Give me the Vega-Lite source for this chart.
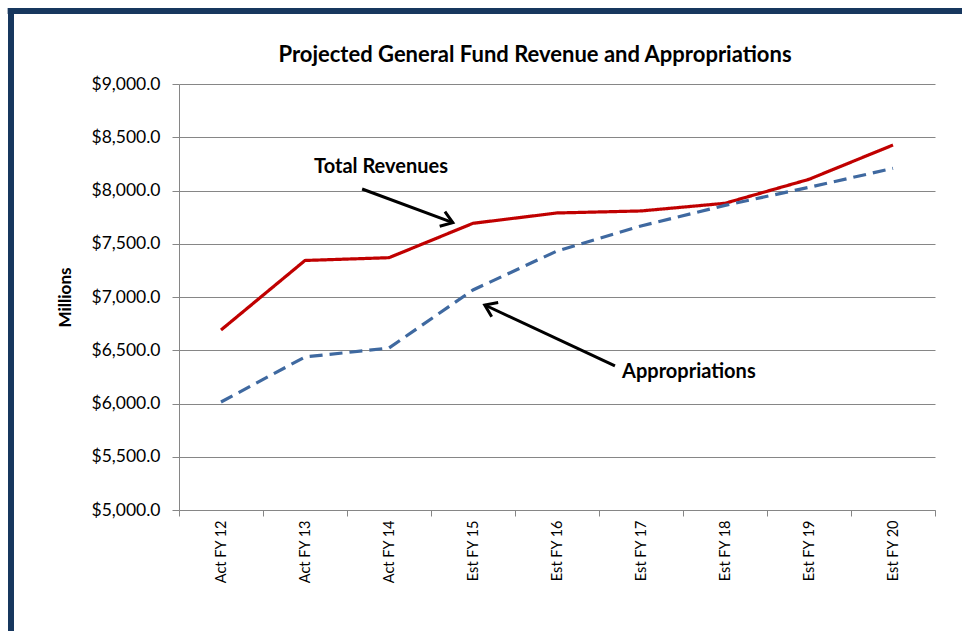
{
  "$schema": "https://vega.github.io/schema/vega-lite/v6.json",
  "width": 756,
  "height": 426,
  "autosize": {"type": "none"},
  "padding": {"left": 179, "top": 84, "right": 27, "bottom": 121},
  "background": "white",
  "config": {"view": {"stroke": null}, "font": "Lato"},
  "title": {
    "text": "Projected General Fund Revenue and Appropriations",
    "fontSize": 22,
    "fontWeight": "bold",
    "font": "Lato",
    "color": "#000000",
    "anchor": "middle",
    "frame": "group",
    "dx": -22,
    "offset": -62
  },
  "datasets": {
    "series": [
      {"year": "Act FY 12", "series": "Total Revenues", "value": 6690},
      {"year": "Act FY 13", "series": "Total Revenues", "value": 7343},
      {"year": "Act FY 14", "series": "Total Revenues", "value": 7369},
      {"year": "Est FY 15", "series": "Total Revenues", "value": 7692},
      {"year": "Est FY 16", "series": "Total Revenues", "value": 7789},
      {"year": "Est FY 17", "series": "Total Revenues", "value": 7808},
      {"year": "Est FY 18", "series": "Total Revenues", "value": 7880},
      {"year": "Est FY 19", "series": "Total Revenues", "value": 8105},
      {"year": "Est FY 20", "series": "Total Revenues", "value": 8427},
      {"year": "Act FY 12", "series": "Appropriations", "value": 6014},
      {"year": "Act FY 13", "series": "Appropriations", "value": 6437},
      {"year": "Act FY 14", "series": "Appropriations", "value": 6521},
      {"year": "Est FY 15", "series": "Appropriations", "value": 7066},
      {"year": "Est FY 16", "series": "Appropriations", "value": 7432},
      {"year": "Est FY 17", "series": "Appropriations", "value": 7667},
      {"year": "Est FY 18", "series": "Appropriations", "value": 7860},
      {"year": "Est FY 19", "series": "Appropriations", "value": 8030},
      {"year": "Est FY 20", "series": "Appropriations", "value": 8208}
    ],
    "labels": [
      {"label": "Total Revenues", "ax": 2.405, "v": 8221},
      {"label": "Appropriations", "ax": 6.07, "v": 6296}
    ],
    "arrows": [
      {"name": "rev", "ax": 2.18, "v": 8014, "ax2": 3.26, "v2": 7698},
      {"name": "app", "ax": 5.19, "v": 6353, "ax2": 3.64, "v2": 6925}
    ],
    "headRev": [{"ax": 3.26, "v": 7698}],
    "headApp": [{"ax": 3.64, "v": 6925}],
    "frameLeft": [{"ax": -2.0, "v": 9713, "v2": 3860}],
    "frameTop": [{"ax": -2.04, "ax2": 9.4, "v": 9685}]
  },
  "resolve": {"scale": {"x": "independent"}},
  "layer": [
    {
      "data": {"name": "series"},
      "mark": {"type": "line", "strokeWidth": 3.2, "strokeCap": "butt"},
      "encoding": {
        "x": {
          "field": "year",
          "type": "ordinal",
          "sort": null,
          "bandPosition": 0.5,
          "scale": {"type": "band", "paddingInner": 0, "paddingOuter": 0},
          "axis": {
            "title": null,
            "labelAngle": -90,
            "labelAlign": "right",
            "labelBaseline": "middle",
            "labelFontSize": 14.5,
            "labelFont": "Lato",
            "labelColor": "#000000",
            "labelPadding": 4,
            "tickBand": "extent",
            "tickSize": 6,
            "tickColor": "#868686",
            "domainColor": "#868686",
            "grid": false
          }
        },
        "y": {
          "field": "value",
          "type": "quantitative",
          "scale": {"domain": [5000, 9000], "zero": false, "nice": false},
          "axis": {
            "title": "Millions",
            "titleFont": "Lato",
            "titleFontSize": 17,
            "titleFontWeight": "bold",
            "titleColor": "#000000",
            "titlePadding": 16,
            "values": [5000, 5500, 6000, 6500, 7000, 7500, 8000, 8500, 9000],
            "format": "$,.1f",
            "labelFont": "Lato",
            "labelFontSize": 17.5,
            "labelColor": "#000000",
            "labelPadding": 12,
            "tickSize": 7,
            "tickColor": "#868686",
            "domainColor": "#868686",
            "gridColor": "#868686",
            "grid": true
          }
        },
        "color": {
          "field": "series",
          "type": "nominal",
          "scale": {"domain": ["Total Revenues", "Appropriations"], "range": ["#C00000", "#3F69A0"]},
          "legend": null
        },
        "strokeDash": {
          "field": "series",
          "type": "nominal",
          "scale": {"domain": ["Total Revenues", "Appropriations"], "range": [[1, 0], [13, 7]]},
          "legend": null
        }
      }
    },
    {
      "data": {"name": "arrows"},
      "mark": {"type": "rule", "strokeWidth": 3, "color": "#000000"},
      "encoding": {
        "x": {"field": "ax", "type": "quantitative", "scale": {"domain": [0, 9], "nice": false, "zero": false}, "axis": null},
        "x2": {"field": "ax2"},
        "y": {"field": "v", "type": "quantitative", "scale": {"domain": [5000, 9000], "zero": false, "nice": false}},
        "y2": {"field": "v2"}
      }
    },
    {
      "data": {"name": "headRev"},
      "mark": {"type": "point", "shape": "M-1,-0.7L0,0L-1,0.7", "filled": false, "stroke": "#000000", "strokeWidth": 3, "size": 500, "angle": 19.5, "opacity": 1},
      "encoding": {
        "x": {"field": "ax", "type": "quantitative", "scale": {"domain": [0, 9], "nice": false, "zero": false}, "axis": null},
        "y": {"field": "v", "type": "quantitative", "scale": {"domain": [5000, 9000], "zero": false, "nice": false}}
      }
    },
    {
      "data": {"name": "headApp"},
      "mark": {"type": "point", "shape": "M-1,-0.7L0,0L-1,0.7", "filled": false, "stroke": "#000000", "strokeWidth": 3, "size": 500, "angle": 204.5, "opacity": 1},
      "encoding": {
        "x": {"field": "ax", "type": "quantitative", "scale": {"domain": [0, 9], "nice": false, "zero": false}, "axis": null},
        "y": {"field": "v", "type": "quantitative", "scale": {"domain": [5000, 9000], "zero": false, "nice": false}}
      }
    },
    {
      "data": {"name": "labels"},
      "mark": {"type": "text", "fontSize": 20, "fontWeight": "bold", "font": "Lato", "color": "#000000", "align": "center", "baseline": "middle"},
      "encoding": {
        "x": {"field": "ax", "type": "quantitative", "scale": {"domain": [0, 9], "nice": false, "zero": false}, "axis": null},
        "y": {"field": "v", "type": "quantitative", "scale": {"domain": [5000, 9000], "zero": false, "nice": false}},
        "text": {"field": "label"}
      }
    },
    {
      "data": {"name": "frameLeft"},
      "mark": {"type": "rule", "strokeWidth": 6, "color": "#17375E", "clip": false},
      "encoding": {
        "x": {"field": "ax", "type": "quantitative", "scale": {"domain": [0, 9], "nice": false, "zero": false}, "axis": null},
        "y": {"field": "v", "type": "quantitative", "scale": {"domain": [5000, 9000], "zero": false, "nice": false}},
        "y2": {"field": "v2"}
      }
    },
    {
      "data": {"name": "frameTop"},
      "mark": {"type": "rule", "strokeWidth": 6, "color": "#17375E", "clip": false},
      "encoding": {
        "x": {"field": "ax", "type": "quantitative", "scale": {"domain": [0, 9], "nice": false, "zero": false}, "axis": null},
        "x2": {"field": "ax2"},
        "y": {"field": "v", "type": "quantitative", "scale": {"domain": [5000, 9000], "zero": false, "nice": false}}
      }
    }
  ]
}
